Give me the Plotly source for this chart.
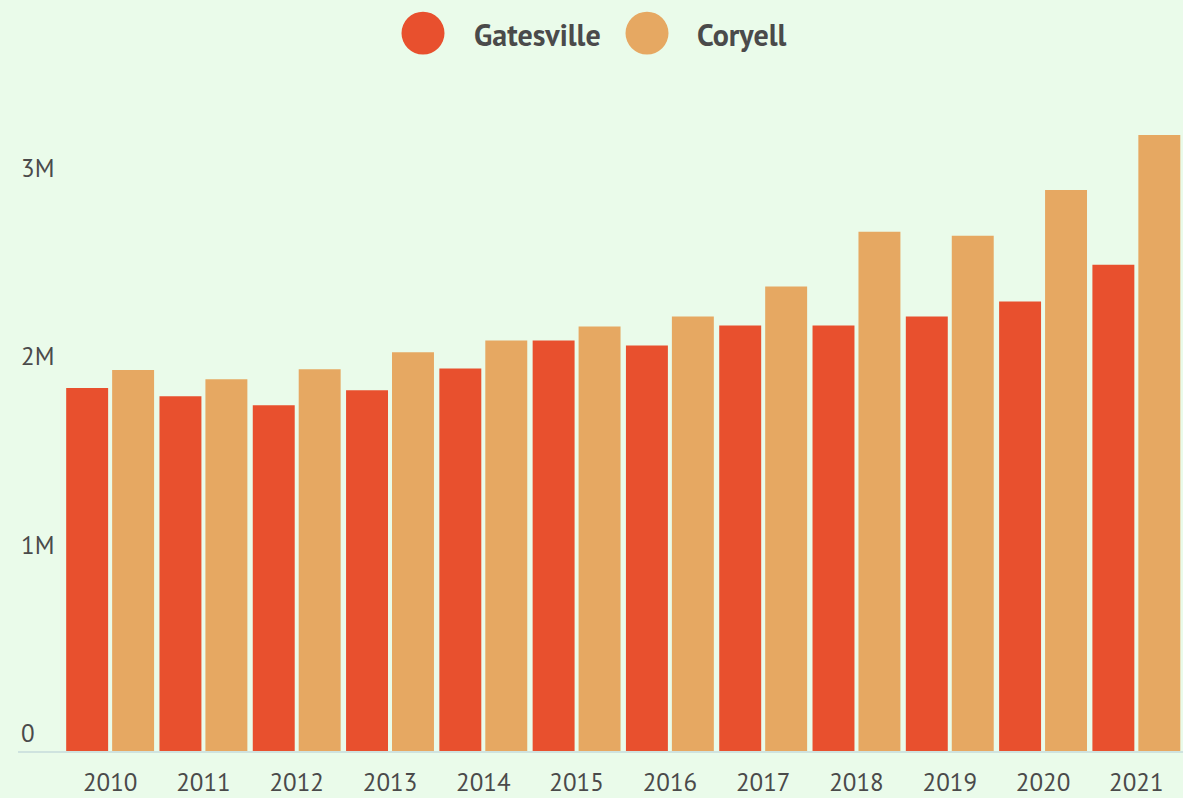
import plotly.graph_objects as go

years = ["2010", "2011", "2012", "2013", "2014", "2015", "2016", "2017", "2018", "2019", "2020", "2021"]
gatesville = [1.926e6, 1.882e6, 1.834e6, 1.914e6, 2.030e6, 2.178e6, 2.152e6, 2.258e6, 2.258e6, 2.305e6, 2.385e6, 2.580e6]
coryell = [2.021e6, 1.972e6, 2.025e6, 2.115e6, 2.178e6, 2.252e6, 2.305e6, 2.464e6, 2.755e6, 2.734e6, 2.977e6, 3.268e6]
series_names = ["Gatesville", "Coryell"]
series_colors = ["#E8502E", "#E6A862"]
ytick_vals = [0, 1e6, 2e6, 3e6]
ytick_text = ["0", "1M", "2M", "3M"]

W, H = 1183, 798
ML, MR, MT, MB = 18, 0, 80, 45
BG = "#EAFBEA"
TXT = "#4a4a4a"
FONT = "PT Sans, Lato, Noto Sans, sans-serif"

fig = go.Figure()
for name, vals, col in zip(series_names, [gatesville, coryell], series_colors):
    fig.add_trace(go.Bar(x=years, y=vals, name=name, marker=dict(color=col, line=dict(width=0)),
                         showlegend=False))

fig.update_layout(
    width=W, height=H, autosize=False,
    margin=dict(l=ML, r=MR, t=MT, b=MB, pad=0),
    paper_bgcolor=BG, plot_bgcolor=BG,
    font=dict(family=FONT, color=TXT, size=25),
    barmode="group", bargap=0.015, bargroupgap=0.087,
    xaxis=dict(type="category", range=[-0.9875, 11.5], showgrid=False, zeroline=False,
               showline=True, linecolor="#CFE3DF", linewidth=2, ticks="",
               ticklabelstandoff=8,
               tickfont=dict(size=25, color=TXT)),
    yaxis=dict(range=[0, 3.56e6], showgrid=False, zeroline=False, showline=False,
               tickvals=ytick_vals, ticktext=ytick_text, ticklabelposition="inside top",
               tickfont=dict(size=25, color=TXT), ticks=""),
)

# custom legend (large circle markers)
plot_w = W - ML - MR
plot_h = H - MT - MB
def px_x(px):
    return (px - ML) / plot_w
def px_y(py):
    return (H - MB - py) / plot_h

legend_items = [(423, 472), (647, 695)]
r = 21.5
cy = 33
for (cx, tx), name, col in zip(legend_items, series_names, series_colors):
    fig.add_shape(type="circle", xref="paper", yref="paper",
                  x0=px_x(cx - r), x1=px_x(cx + r), y0=px_y(cy + r), y1=px_y(cy - r),
                  fillcolor=col, line=dict(width=0))
    fig.add_annotation(xref="paper", yref="paper", x=px_x(tx), y=px_y(cy + 1),
                       xanchor="left", yanchor="middle", showarrow=False,
                       text="<b>%s</b>" % name, font=dict(size=30, color=TXT, family=FONT))

fig.write_html("out.html", config={"displayModeBar": False},
               post_script="document.body.style.margin='0';document.body.style.overflow='hidden';")
